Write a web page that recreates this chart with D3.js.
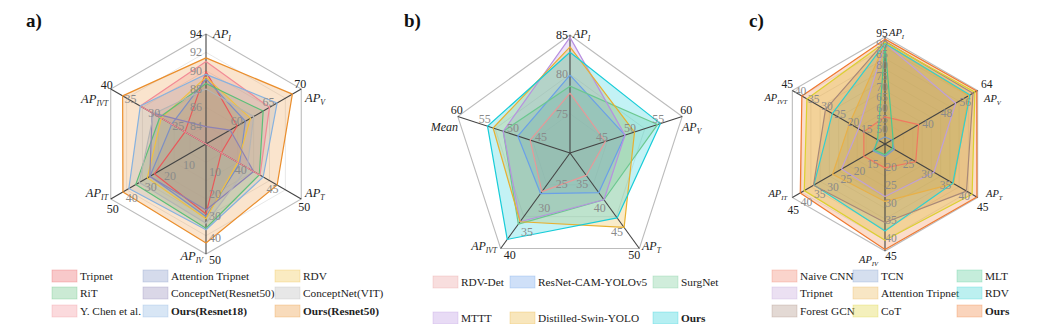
<!DOCTYPE html>
<html><head><meta charset="utf-8">
<script src="https://cdn.jsdelivr.net/npm/d3@7"></script>
<style>
body{margin:0;background:#fff}
svg{display:block}
</style></head>
<body><svg id="chart" width="1047" height="324" font-family="'Liberation Serif', 'Times New Roman', serif"></svg>
<script>
// ---------------- DATA ----------------
// Chart a
const axesA = ["I","V","T","IV","IT","IVT"];
const domainsA = [[82,94],[55,70],[35,50],[0,50],[0,50],[20,40]];
const ticksA = [[84,86,88,90,92,94],[60,65,70],[40,45,50],[10,20,30,40,50],[10,20,30,40,50],[25,30,35,40]];
const seriesA = ["Tripnet","Attention Tripnet","RDV","RiT","ConceptNet(Resnet50)","ConceptNet(VIT)","Y. Chen et al.","Ours(Resnet18)","Ours(Resnet50)"];
const valuesA = [
  [89.9, 59.9, 37.4, 31.8, 27.1, 24.4],
  [89.1, 61.2, 40.3, 33.0, 29.4, 27.2],
  [89.3, 62.0, 40.0, 34.0, 30.8, 29.4],
  [88.6, 64.0, 43.4, 38.3, 36.9, 29.7],
  [83.9, 58.8, 42.5, 30.0, 29.5, 31.3],
  [88.0, 62.5, 41.5, 36.0, 35.0, 31.0],
  [91.0, 65.0, 43.5, 0.0, 0.0, 33.8],
  [89.6, 66.2, 44.0, 39.0, 40.5, 33.8],
  [91.4, 68.6, 46.2, 45.0, 43.6, 37.5]
];
// Chart b
const axesB = ["I","V","T","IVT","Mean"];
const domainsB = [[70,85],[40,60],[30,50],[20,40],[40,60]];
const ticksB = [[75,80,85],[45,50,55,60],[35,40,45,50],[25,30,35,40],[45,50,55,60]];
const seriesB = ["RDV-Det","ResNet-CAM-YOLOv5","SurgNet","MTTT","Distilled-Swin-YOLO","Ours"];
const valuesB = [
  [77.6, 46.3, 34.7, 28.1, 47.1],
  [79.9, 49.8, 38.3, 28.5, 49.3],
  [78.5, 55.6, 39.8, 34.9, 51.9],
  [84.7, 49.8, 39.8, 34.4, 51.9],
  [83.5, 51.5, 45.6, 34.4, 53.7],
  [82.8, 56.1, 43.6, 38.1, 54.7]
];
// Chart c
const axesC = ["I","V","T","IV","IT","IVT"];
const domainsC = [[45,95],[24,64],[20,45],[15,45],[10,45],[10,45]];
const ticksC = [[50,55,60,65,70,75,80,85,90,95],[40,48,56,64],[25,30,35,40,45],[20,25,30,35,40,45],[15,20,25,30,35,40,45],[15,20,25,30,35,40,45]];
const seriesC = ["Naive CNN","TCN","MLT","Tripnet","Attention Tripnet","RDV","Forest GCN","CoT","Ours"];
const valuesC = [
  [57.7, 38.5, 28.3, 21.7, 18.0, 18.0],
  [48.3, 27.0, 22.5, 18.5, 14.5, 12.5],
  [91.5, 27.5, 22.0, 18.0, 14.0, 12.8],
  [92.1, 54.5, 33.2, 29.7, 26.4, 20.0],
  [92.0, 60.2, 38.5, 31.1, 29.8, 23.4],
  [92.0, 60.7, 38.3, 39.4, 36.9, 29.9],
  [93.0, 62.0, 42.0, 37.0, 37.0, 32.5],
  [92.5, 62.8, 43.5, 42.0, 40.5, 39.5],
  [94.0, 63.6, 44.8, 44.6, 42.0, 41.4]
];

// ---------------- STYLE ----------------
const colorsA = ["#e8585a","#7d8fc4","#f0c040","#5cbf78","#8d82b4","#b4b4b4","#f28b96","#86b2e0","#ea8e2c"];
const colorsB = ["#e89898","#6aa0e8","#6cc890","#b890e0","#e8b030","#18ccd8"];
const colorsC = ["#f07860","#7c9ccc","#4cc890","#c0a0d8","#e8b048","#30d0d0","#a88878","#dcd030","#f07830"];
const FONT = "'Liberation Serif', 'Times New Roman', serif";

const svg = d3.select("#chart");

function radar(o){
  const g = svg.append("g");
  const n = o.axes.length;
  const ang = i => i*2*Math.PI/n;
  const pt = (i,r) => [o.cx + r*Math.sin(ang(i)), o.cy - r*Math.cos(ang(i))];
  const scales = o.domains.map(d => d3.scaleLinear().domain(d).range([0,o.R]).clamp(true));
  const line = d3.line().curve(d3.curveLinearClosed);
  for(let k=1;k<=o.rings;k++){
    const r = o.R*k/o.rings;
    g.append("path").attr("d", line(d3.range(n).map(i=>pt(i,r))))
      .attr("fill","none").attr("stroke", k===o.rings ? "#bcbcbc" : "#e2e2e2")
      .attr("stroke-width", k===o.rings ? 1.1 : 0.8);
  }
  o.values.forEach((vals,s)=>{
    g.append("path").attr("d", line(vals.map((v,i)=>pt(i, scales[i](v)))))
      .attr("fill", o.colors[s]).attr("fill-opacity", Array.isArray(o.fillOp) ? o.fillOp[s] : o.fillOp).attr("stroke","none");
  });
  d3.range(n).forEach(i=>{
    const p = pt(i,o.R);
    g.append("line").attr("x1",o.cx).attr("y1",o.cy).attr("x2",p[0]).attr("y2",p[1])
      .attr("stroke","#444").attr("stroke-width",1.1);
  });
  o.values.forEach((vals,s)=>{
    g.append("path").attr("d", line(vals.map((v,i)=>pt(i, scales[i](v)))))
      .attr("fill","none").attr("stroke", o.colors[s]).attr("stroke-width", o.sw).attr("stroke-linejoin","round");
  });
  o.ticks.forEach((tks,i)=>{
    tks.forEach(t=>{
      const outer = t===o.domains[i][1];
      const off = (outer && o.outerOff && o.outerOff[i]) ? o.outerOff[i] : o.tickOff[i];
      const p = pt(i, scales[i](t));
      g.append("text").attr("x", p[0]+off[0]).attr("y", p[1]+off[1])
        .attr("text-anchor", off[2]).attr("dominant-baseline","central")
        .attr("font-family",FONT).attr("font-size", o.tickFs).attr("fill", outer ? "#222" : "#8a8a8a")
        .text(t);
    });
  });
  o.axes.forEach((a,i)=>{
    const tp = o.titlePos[i];
    const t = g.append("text").attr("x",tp[0]).attr("y",tp[1]).attr("text-anchor",tp[2])
      .attr("font-family",FONT).attr("font-size", o.titleFs).attr("font-style","italic").attr("fill","#222");
    if(a==="Mean"){ t.text("Mean"); }
    else {
      t.append("tspan").text("AP");
      t.append("tspan").attr("font-size", o.titleFs*0.62).attr("dy", 3).text(a);
    }
  });
  svg.append("text").attr("x",o.label[0]).attr("y",o.label[1]).attr("font-size",19)
    .attr("font-family",FONT).attr("font-weight","bold").attr("fill","#111").text(o.label[2]);
}

function legend(o){
  const g = svg.append("g");
  o.series.forEach((s,k)=>{
    const col = k % o.cols, row = Math.floor(k/o.cols);
    const x = o.xs[col], y = o.ys[row];
    g.append("rect").attr("x",x).attr("y",y-6).attr("width",25).attr("height",12)
      .attr("fill",o.colors[k]).attr("fill-opacity",0.32)
      .attr("stroke",o.colors[k]).attr("stroke-opacity",0.35).attr("stroke-width",0.8);
    g.append("text").attr("x",x+28).attr("y",y).attr("dominant-baseline","central")
      .attr("font-family",FONT).attr("font-size",11.3).attr("fill","#222")
      .attr("font-weight", s.startsWith("Ours") ? "bold" : "normal").text(s);
  });
}

radar({cx:206, cy:144, R:110, rings:6, axes:axesA, domains:domainsA, ticks:ticksA,
  values:valuesA, colors:colorsA, fillOp:0.24, sw:1.2, tickFs:12, titleFs:12.5,
  tickOff:[[-4,0,"end"],[-1,-5,"middle"],[3,8,"middle"],[3,6,"start"],[2,10,"middle"],[-4,-4,"middle"]],
  titlePos:[[213,38,"start"],[305,102,"start"],[305,197,"start"],[203,260,"end"],[108,197,"end"],[108,103,"end"]],
  label:[26,27,"a)"]});

radar({cx:570, cy:153, R:118, rings:3, axes:axesB, domains:domainsB, ticks:ticksB,
  values:valuesB, colors:colorsB, fillOp:0.26, sw:1.2, tickFs:12, titleFs:12,
  tickOff:[[-2,0,"end"],[4,-7,"middle"],[-5,7,"middle"],[9,7,"middle"],[-1,-7,"middle"]],
  titlePos:[[573,38,"start"],[682,131,"start"],[642,250,"start"],[497,250,"end"],[458,131,"end"]],
  label:[404,27,"b)"]});

radar({cx:885, cy:144, R:107, rings:10, axes:axesC, domains:domainsC, ticks:ticksC,
  values:valuesC, colors:colorsC, fillOp:[0.22,0.22,0.22,0.2,0.28,0.22,0.24,0.32,0.25], sw:1.2, tickFs:11.5, titleFs:10.5,
  tickOff:[[-3,-4,"middle"],[6,1,"middle"],[5,9,"middle"],[6,5,"middle"],[1,12,"middle"],[-5,-7,"middle"]],
  outerOff:[null,[9,-7,"middle"],null,null,null,null],
  titlePos:[[889,36,"start"],[984,102,"start"],[986,197,"start"],[878,263,"end"],[787,197,"end"],[787,101,"end"]],
  label:[749,27,"c)"]});

legend({series:seriesA, colors:colorsA, cols:3, xs:[52,143,275], ys:[276,293,311]});
legend({series:seriesB, colors:colorsB, cols:3, xs:[433,510,653], ys:[282,318]});
legend({series:seriesC, colors:colorsC, cols:3, xs:[772,853,957], ys:[276,293,311]});
</script>
</body></html>
